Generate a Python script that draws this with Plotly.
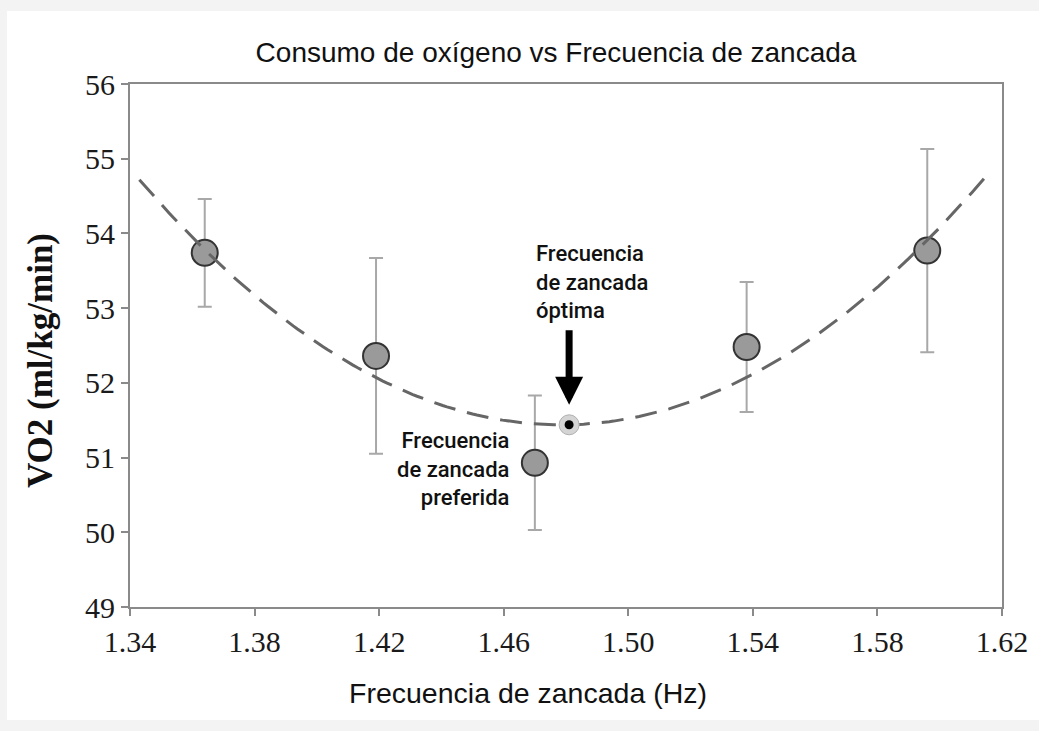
import numpy as np
import plotly.graph_objects as go

# Measured stride frequency (Hz), oxygen consumption (ml/kg/min) and its spread
freq = [1.364, 1.419, 1.470, 1.538, 1.596]
vo2 = [53.74, 52.36, 50.93, 52.48, 53.77]
vo2_err = [0.72, 1.31, 0.90, 0.87, 1.36]
preferred_idx = 2

# optimum stride frequency marked on the trend line
opt_freq = 1.481

x_ticks = [1.34, 1.38, 1.42, 1.46, 1.50, 1.54, 1.58, 1.62]
y_ticks = [49, 50, 51, 52, 53, 54, 55, 56]
fit_range = [1.343, 1.616]

# Quadratic trend line through the measurements
coef = np.polyfit(freq, vo2, 2)
fit_x = np.linspace(fit_range[0], fit_range[1], 200)
fit_y = np.polyval(coef, fit_x)
opt_vo2 = float(np.polyval(coef, opt_freq))

serif = "Liberation Serif"
sans = "Liberation Sans"
label_font = dict(family="Roboto", size=22, color="#111111", weight=500)

fig = go.Figure()

# measured points with error bars
fig.add_trace(go.Scatter(
    x=freq, y=vo2, mode="markers",
    error_y=dict(type="data", array=vo2_err, visible=True,
                 color="#a8a8a8", thickness=2, width=7),
    marker=dict(size=26, color="#9a9a9a", line=dict(color="#333333", width=2)),
    showlegend=False, hoverinfo="x+y",
))

# fitted curve
fig.add_trace(go.Scatter(
    x=fit_x, y=fit_y, mode="lines",
    line=dict(color="#666666", width=3, dash="22px,12px"),
    showlegend=False, hoverinfo="skip",
))

# optimum marker: light halo with a black centre
fig.add_trace(go.Scatter(
    x=[opt_freq], y=[opt_vo2], mode="markers",
    marker=dict(size=20, color="#d4d4d4", line=dict(color="#b0b0b0", width=1)),
    showlegend=False, hoverinfo="skip",
))
fig.add_trace(go.Scatter(
    x=[opt_freq], y=[opt_vo2], mode="markers",
    marker=dict(size=9, color="#000000"),
    showlegend=False, hoverinfo="x+y",
))

annotations = [
    # arrow pointing at the optimum
    dict(x=opt_freq, y=opt_vo2, xref="x", yref="y", text="", showarrow=True,
         arrowhead=2, arrowsize=0.8, arrowwidth=7, arrowcolor="#000000",
         ax=0, ay=-96, standoff=20),
    dict(x=opt_freq, y=opt_vo2, xref="x", yref="y",
         text="Frecuencia<br>de zancada<br>óptima", showarrow=False,
         xanchor="left", yanchor="bottom", align="left",
         xshift=-35, yshift=100, font=label_font),
    dict(x=freq[preferred_idx], y=vo2[preferred_idx], xref="x", yref="y",
         text="Frecuencia<br>de zancada<br>preferida", showarrow=False,
         xanchor="right", yanchor="middle", align="right",
         xshift=-24, yshift=-6, font=label_font),
    # axis titles
    dict(x=(528 - 130) / 872, y=(607 - 693) / 523, xref="paper", yref="paper",
         text="Frecuencia de zancada (Hz)", showarrow=False,
         xanchor="center", yanchor="middle",
         font=dict(family=sans, size=28.5, color="#111111")),
    dict(x=(40 - 130) / 872, y=(607 - 361) / 523, xref="paper", yref="paper",
         text="<b>VO2 (ml/kg/min)</b>", showarrow=False, textangle=-90,
         xanchor="center", yanchor="middle",
         font=dict(family=serif, size=35, color="#111111")),
]

axis_common = dict(
    showline=True, linecolor="#8a8a8a", linewidth=2, mirror=True,
    ticks="outside", ticklen=7, tickcolor="#8a8a8a", tickwidth=1.5,
    showgrid=False, zeroline=False,
    tickfont=dict(family=serif, size=30, color="#1a1a1a"),
)

fig.update_layout(
    width=1039, height=731,
    margin=dict(l=130, r=37, t=84, b=124),
    paper_bgcolor="#f3f3f3", plot_bgcolor="#ffffff",
    title=dict(text="Consumo de oxígeno vs Frecuencia de zancada",
               x=556 / 1039, xanchor="center", y=1 - 52 / 731, yanchor="middle",
               font=dict(family=sans, size=28, color="#111111")),
    xaxis=dict(range=[x_ticks[0], x_ticks[-1]], tickvals=x_ticks,
               ticktext=[f"{v:.2f}" for v in x_ticks], **axis_common),
    yaxis=dict(range=[y_ticks[0], y_ticks[-1]], tickvals=y_ticks, **axis_common),
    annotations=annotations,
    shapes=[dict(type="rect", xref="paper", yref="paper", layer="below",
                 x0=(7 - 130) / 872, x1=(1045 - 130) / 872,
                 y0=(607 - 720) / 523, y1=(607 - 11) / 523,
                 fillcolor="#ffffff", line=dict(width=0))],
)

fig.write_html("out.html")
